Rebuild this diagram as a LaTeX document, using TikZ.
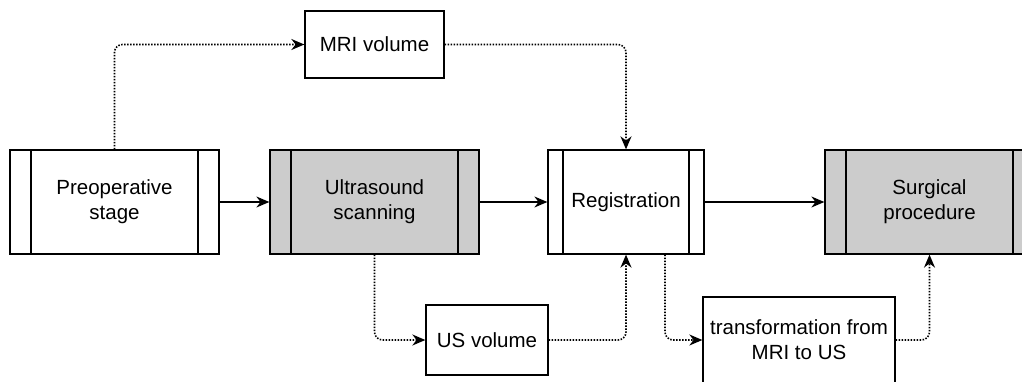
\documentclass[tikz,border=0pt]{standalone}
\usepackage{fontspec}
\setmainfont{Liberation Sans}
\usetikzlibrary{arrows.meta}
\definecolor{shade}{HTML}{CCCCCC}

\begin{document}
\begin{tikzpicture}[x=1pt,y=1pt,
	box/.style={draw,line width=1.3pt,align=center,inner sep=0pt,font=\fontsize{20.5}{25}\selectfont},
	proc/.style={box,minimum width=209pt,minimum height=104pt,
		path picture={\draw[line width=1.3pt]
			([xshift=#1]path picture bounding box.north west) -- ([xshift=#1]path picture bounding box.south west)
			([xshift=-#1]path picture bounding box.north east) -- ([xshift=-#1]path picture bounding box.south east);}},
	proc/.default=21pt,
	flow/.style={line width=1.3pt,-{Stealth[length=13pt,width=11pt]}},
	dots/.style={line width=1.6pt,dash pattern=on 1.5pt off 1.5pt,rounded corners=8pt,-{Stealth[length=13pt,width=11pt]}}]
	\useasboundingbox (0,0) rectangle (1022,381);
	% main stages
	\node[proc] (pre) at (114.5,179) {Preoperative\\stage};
	\node[proc,fill=shade] (scan) at (374.5,179) {Ultrasound\\scanning};
	\node[proc=15pt,minimum width=156pt] (reg) at (626,179) {Registration};
	\node[proc,fill=shade] (surg) at (929.5,179) {Surgical\\procedure};
	% data
	\node[box,minimum width=139pt,minimum height=67pt] (mri) at (374.5,336.5) {MRI volume};
	\node[box,minimum width=122pt,minimum height=70pt] (usvol) at (487,41) {US volume};
	\node[box,minimum width=192pt,minimum height=86pt] (trans) at (799,41) {transformation from\\MRI to US};
	\coordinate (regout) at ([xshift=39pt]reg.south);
	\draw[flow] (pre.east) -- (scan.west);
	\draw[flow] (scan.east) -- (reg.west);
	\draw[flow] (reg.east) -- (surg.west);
	\draw[dots] (pre.north) |- (mri.west);
	\draw[dots] (mri.east) -| (reg.north);
	\draw[dots] (scan.south) |- (usvol.west);
	\draw[dots] (usvol.east) -| (reg.south);
	\draw[dots] (regout) |- (trans.west);
	\draw[dots] (trans.east) -| (surg.south);
\end{tikzpicture}
\end{document}
